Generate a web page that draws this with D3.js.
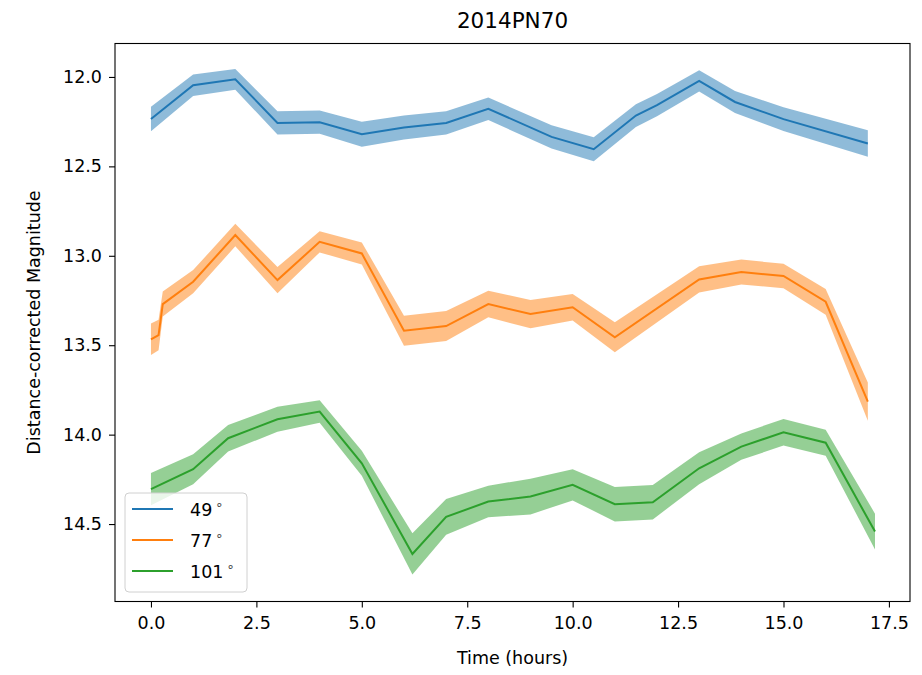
<!DOCTYPE html>
<html>
<head>
<meta charset="utf-8">
<script src="https://cdn.jsdelivr.net/npm/d3@7"></script>
<style>
  body { margin: 0; background: #fff; }
  text { font-family: "DejaVu Sans", sans-serif; fill: #000; }
</style>
</head>
<body>
<div id="chart"></div>
<script>
// phase angles of the three light curves
var labels = ["49", "77", "101"];
var colors = ["#1f77b4", "#ff7f0e", "#2ca02c"];

// 49 deg
var times49 = [0, 1, 2, 3, 4, 5, 6, 7, 8, 9.5, 10.5, 11.5, 12, 13, 13.85, 15, 17];
var mag49 = [12.235, 12.046, 12.013, 12.257, 12.253, 12.32, 12.283, 12.257, 12.178, 12.335, 12.404, 12.216, 12.158, 12.022, 12.14, 12.236, 12.372];
var err49 = [0.068, 0.06, 0.058, 0.065, 0.065, 0.07, 0.067, 0.065, 0.063, 0.065, 0.067, 0.064, 0.062, 0.059, 0.062, 0.066, 0.074];

// 77 deg
var times77 = [0, 0.18, 0.28, 1, 2, 3, 4, 5, 6, 7, 8, 9, 10, 11, 13, 14, 15, 16, 17];
var mag77 = [13.467, 13.443, 13.27, 13.145, 12.884, 13.136, 12.922, 12.987, 13.419, 13.393, 13.27, 13.326, 13.288, 13.456, 13.132, 13.091, 13.113, 13.257, 13.816];
var err77 = [0.088, 0.085, 0.07, 0.065, 0.063, 0.073, 0.059, 0.062, 0.084, 0.084, 0.074, 0.079, 0.074, 0.084, 0.073, 0.07, 0.068, 0.072, 0.107];

// 101 deg
var times101 = [0, 1, 1.83, 3, 4, 5, 6.2, 7, 8, 9, 10, 11, 11.9, 13, 14, 15, 16, 17.17];
var mag101 = [14.305, 14.193, 14.02, 13.914, 13.871, 14.16, 14.667, 14.46, 14.374, 14.346, 14.281, 14.389, 14.378, 14.188, 14.067, 13.987, 14.045, 14.542];
var err101 = [0.09, 0.084, 0.074, 0.07, 0.063, 0.07, 0.115, 0.1, 0.088, 0.1, 0.087, 0.096, 0.096, 0.09, 0.074, 0.074, 0.073, 0.1];

var xTicks = [0, 2.5, 5, 7.5, 10, 12.5, 15, 17.5];
var yTicks = [12.0, 12.5, 13.0, 13.5, 14.0, 14.5];

var W = 922, H = 675;
var margin = {top: 43.5, right: 12, bottom: 73.5, left: 115};
var width = W - margin.left - margin.right,
    height = H - margin.top - margin.bottom;

var svg = d3.select("#chart").append("svg")
    .attr("width", W)
    .attr("height", H);

var g = svg.append("g")
    .attr("transform", "translate(" + margin.left + "," + margin.top + ")");

var x = d3.scaleLinear().domain([-0.853, 18.0]).range([0, width]);
// magnitudes: brighter on top (inverted axis)
var y = d3.scaleLinear().domain([11.813, 14.933]).range([0, height]);

var series = [
  {t: times49, m: mag49, e: err49},
  {t: times77, m: mag77, e: err77},
  {t: times101, m: mag101, e: err101}
].map(function(s, i) {
  return {
    label: labels[i],
    color: colors[i],
    pts: s.t.map(function(t, j) { return {t: t, m: s.m[j], e: s.e[j]}; })
  };
});

var area = d3.area()
    .x(function(d) { return x(d.t); })
    .y0(function(d) { return y(d.m - d.e); })
    .y1(function(d) { return y(d.m + d.e); });

var line = d3.line()
    .x(function(d) { return x(d.t); })
    .y(function(d) { return y(d.m); });

series.forEach(function(s) {
  g.append("path")
      .attr("d", area(s.pts))
      .attr("fill", s.color)
      .attr("fill-opacity", 0.5);
  g.append("path")
      .attr("d", line(s.pts))
      .attr("fill", "none")
      .attr("stroke", s.color)
      .attr("stroke-width", 2);
});

// axes
var xAxis = g.append("g")
    .attr("transform", "translate(0," + height + ")")
    .call(d3.axisBottom(x).tickValues(xTicks).tickFormat(d3.format(".1f")).tickSize(6).tickPadding(9));
var yAxis = g.append("g")
    .call(d3.axisLeft(y).tickValues(yTicks).tickFormat(d3.format(".1f")).tickSize(6).tickPadding(7));

[xAxis, yAxis].forEach(function(a) {
  a.select(".domain").remove();
  a.selectAll("line").attr("stroke", "#000").attr("stroke-width", 1.1);
  a.selectAll("text").style("font-size", "17.5px").style("font-family", "DejaVu Sans, sans-serif");
});

// frame
g.append("rect")
    .attr("width", width)
    .attr("height", height)
    .attr("fill", "none")
    .attr("stroke", "#000")
    .attr("stroke-width", 1.1);

// title and labels
svg.append("text")
    .attr("x", margin.left + width / 2)
    .attr("y", 28)
    .attr("text-anchor", "middle")
    .style("font-size", "21.5px")
    .text("2014PN70");

svg.append("text")
    .attr("x", margin.left + width / 2)
    .attr("y", 664)
    .attr("text-anchor", "middle")
    .style("font-size", "17.5px")
    .text("Time (hours)");

svg.append("text")
    .attr("transform", "translate(40," + (margin.top + height / 2) + ") rotate(-90)")
    .attr("text-anchor", "middle")
    .style("font-size", "17.5px")
    .text("Distance-corrected Magnitude");

// legend
var leg = g.append("g")
    .attr("transform", "translate(10," + (height - 108.5) + ")");
leg.append("rect")
    .attr("width", 122)
    .attr("height", 99)
    .attr("rx", 4)
    .attr("fill", "#fff")
    .attr("fill-opacity", 0.8)
    .attr("stroke", "#d0d0d0")
    .attr("stroke-width", 1);

series.forEach(function(s, i) {
  var row = leg.append("g").attr("transform", "translate(0," + (16 + i * 31) + ")");
  row.append("line")
      .attr("x1", 7).attr("x2", 48)
      .attr("stroke", s.color)
      .attr("stroke-width", 2);
  var t = row.append("text")
      .attr("x", 65)
      .attr("y", 7)
      .style("font-size", "17.5px");
  t.append("tspan").text(s.label);
  t.append("tspan")
      .attr("dx", 3)
      .attr("dy", -7)
      .style("font-size", "13px")
      .style("fill", "#444")
      .text("\u2218");
});
</script>
</body>
</html>
